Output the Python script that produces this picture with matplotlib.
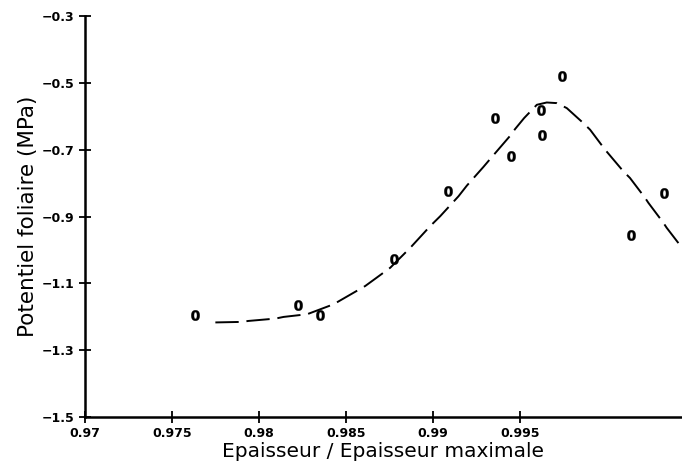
import matplotlib
matplotlib.use("Agg")
import matplotlib.pyplot as plt

# Observed points
obs_x = [0.97634, 0.98222, 0.98348, 0.98773, 0.99085, 0.99353, 0.99447,
         0.99619, 0.99625, 0.99743, 1.00137, 1.00328]
obs_y = [-1.195, -1.165, -1.195, -1.028, -0.825, -0.606, -0.720,
         -0.580, -0.657, -0.481, -0.954, -0.831]

# Fitted curve
fit_x = [0.97749, 0.97893, 0.97940, 0.98094, 0.98141, 0.98276, 0.98428,
         0.98610, 0.98668, 0.98754, 0.98869, 0.98983, 0.99041, 0.99146,
         0.99194, 0.99289, 0.99328, 0.99443, 0.99471, 0.99523, 0.99596,
         0.99653, 0.99711, 0.99768, 0.99863, 0.99902, 0.99988, 1.00093,
         1.00131, 1.00218, 1.00237, 1.00323, 1.00342, 1.00430]
fit_y = [-1.217, -1.2155, -1.2125, -1.2055, -1.2005, -1.1925, -1.1627,
         -1.108, -1.086, -1.0532, -0.9935, -0.9289, -0.899, -0.8394,
         -0.8075, -0.7517, -0.7278, -0.6582, -0.6383, -0.6054, -0.5657,
         -0.5588, -0.5607, -0.5756, -0.6204, -0.6403, -0.700, -0.7648,
         -0.7846, -0.8443, -0.8592, -0.9189, -0.9338, -0.9935]

x_ticks = [0.97, 0.975, 0.98, 0.985, 0.99, 0.995]
x_tick_labels = ["0.97", "0.975", "0.98", "0.985", "0.99", "0.995"]
y_ticks = [-1.5, -1.3, -1.1, -0.9, -0.7, -0.5, -0.3]
y_tick_labels = ["\u22121.5", "\u22121.3", "\u22121.1", "\u22120.9", "\u22120.7", "\u22120.5", "\u22120.3"]

plt.rcParams['font.family'] = ['DejaVu Sans']

fig = plt.figure(figsize=(6.82, 4.76), dpi=100)
ax = fig.add_axes([85 / 682, 1 - 417 / 476, 1 - 85 / 682, (417 - 16) / 476])

ax.plot(fit_x, fit_y, color='black', linewidth=1.4, linestyle=(0, (12, 4)))
ax.plot(obs_x, obs_y, linestyle='none', marker=r'$\mathbf{0}$', markersize=7.5,
        color='black', markeredgewidth=0.3)

ax.set_xlim(0.97, 1.0043)
ax.set_ylim(-1.5, -0.3)
ax.set_xticks(x_ticks)
ax.set_xticklabels(x_tick_labels, fontsize=9, fontweight='bold')
ax.set_yticks(y_ticks)
ax.set_yticklabels(y_tick_labels, fontsize=9, fontweight='bold')

for s in ['top', 'right']:
    ax.spines[s].set_visible(False)
for s in ['left', 'bottom']:
    ax.spines[s].set_linewidth(1.8)

ax.tick_params(direction='inout', length=9, width=1.3, pad=3)

ax.set_xlabel("Epaisseur / Epaisseur maximale", fontsize=14.5, labelpad=1)
ax.set_ylabel("Potentiel foliaire (MPa)", fontsize=15.5, labelpad=3)

fig.savefig("out.png", dpi=100)
